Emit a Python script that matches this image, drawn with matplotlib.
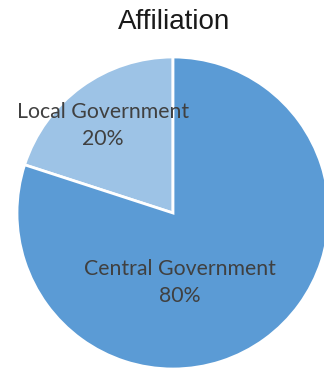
import matplotlib
matplotlib.use("Agg")
import matplotlib.pyplot as plt

# data
categories = ["Local Government", "Central Government"]
shares = [20, 80]
colors = ["#9DC3E6", "#5B9BD5"]
title = "Affiliation"

W, H = 324, 369
fig = plt.figure(figsize=(W / 100, H / 100), dpi=100)
ax = fig.add_axes([0, 0, 1, 1])

cx, cy, r = 173, H - 213, 156
wedges, _ = ax.pie(shares, colors=colors, startangle=90, counterclock=True,
                   center=(cx, cy), radius=r, frame=True,
                   wedgeprops=dict(edgecolor="white", linewidth=2))
ax.set_xlim(0, W)
ax.set_ylim(0, H)
ax.set_aspect("auto")
ax.axis("off")

# label spots (pixel offsets from centre)
label_pos = [(-70, 87.5), (7, -69.5)]
for name, val, (dx, dy) in zip(categories, shares, label_pos):
    ax.text(cx + dx, cy + dy, f"{name}\n{val}%", ha="center", va="center",
            fontsize=15.3, family="Lato", color="#404040", linespacing=1.48)

fig.text(174 / W, 1 - 22 / H, title, ha="center", va="center",
         fontsize=20, family="Liberation Sans", color="#1a1a1a")

fig.savefig("out.png", dpi=100)
